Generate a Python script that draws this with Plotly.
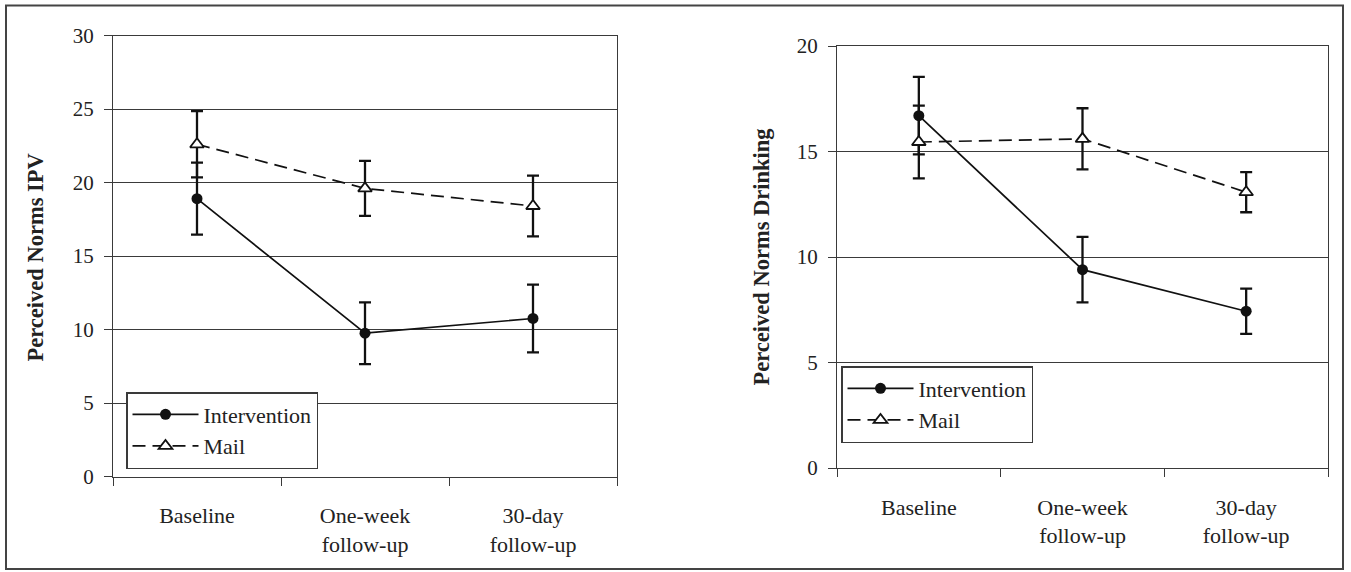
import plotly.graph_objects as go

W, H = 1351, 572

categories = ["Baseline", "One-week<br>follow-up", "30-day<br>follow-up"]

ipv_intervention = [18.9, 9.75, 10.75]
ipv_intervention_err = [2.45, 2.1, 2.3]
ipv_mail = [22.6, 19.6, 18.4]
ipv_mail_err = [2.25, 1.87, 2.07]

drink_intervention = [16.7, 9.4, 7.43]
drink_intervention_err = [1.84, 1.55, 1.07]
drink_mail = [15.45, 15.6, 13.07]
drink_mail_err = [1.72, 1.45, 0.95]

FONT = "Liberation Serif, Times New Roman, serif"
INK = "#222222"
GRID = "#3a3a3a"


def px_x(p):
    return p / W


def px_y(p):
    return 1 - p / H


fig = go.Figure()


def add_pair(xa, ya, legend, inter, inter_err, mail, mail_err, tag):
    fig.add_trace(go.Scatter(
        x=categories, y=inter, xaxis=xa, yaxis=ya, name="Intervention",
        mode="lines+markers", legend=legend, legendgroup=tag + "i",
        line=dict(color="#111111", width=1.7),
        marker=dict(symbol="circle", size=11, color="#111111"),
        error_y=dict(type="data", array=inter_err, visible=True,
                     color="#111111", thickness=2.3, width=6),
    ))
    fig.add_trace(go.Scatter(
        x=categories, y=mail, xaxis=xa, yaxis=ya, name="Mail",
        mode="lines+markers", legend=legend, legendgroup=tag + "m",
        line=dict(color="#111111", width=1.7, dash="13px,7px"),
        marker=dict(symbol="triangle-up", size=12, color="white",
                    line=dict(color="#111111", width=1.8)),
        error_y=dict(type="data", array=mail_err, visible=True,
                     color="#111111", thickness=2.3, width=6),
    ))


add_pair("x", "y", "legend", ipv_intervention, ipv_intervention_err,
         ipv_mail, ipv_mail_err, "L")
add_pair("x2", "y2", "legend2", drink_intervention, drink_intervention_err,
         drink_mail, drink_mail_err, "R")

xcommon = dict(
    type="category", categoryorder="array", categoryarray=categories,
    range=[-0.5, 2.5], tickson="boundaries", ticks="outside", ticklen=8,
    tickwidth=1.3, tickcolor=GRID, showline=True, linecolor=GRID,
    linewidth=1.3, mirror=True, showgrid=False, zeroline=False,
    tickfont=dict(family=FONT, size=22, color=INK), ticklabelstandoff=19,
    fixedrange=True, automargin=False,
)
ycommon = dict(
    dtick=5, ticks="outside", ticklen=8, tickwidth=1.3, tickcolor=GRID,
    showline=True, linecolor=GRID, linewidth=1.3, mirror=True,
    showgrid=True, gridcolor=GRID, gridwidth=1.3, zeroline=False,
    tickfont=dict(family=FONT, size=21, color=INK), ticklabelstandoff=6,
    fixedrange=True, automargin=False,
)

legcommon = dict(
    bgcolor="white", bordercolor=GRID, borderwidth=1.5,
    font=dict(family=FONT, size=22, color=INK), itemwidth=66,
    xanchor="left", yanchor="top", tracegroupgap=2, traceorder="normal",
)

fig.update_layout(
    width=W, height=H, margin=dict(l=0, r=0, t=0, b=0, autoexpand=False),
    paper_bgcolor="white", plot_bgcolor="white",
    xaxis=dict(domain=[px_x(113), px_x(617)], anchor="y", **xcommon),
    yaxis=dict(domain=[px_y(476.5), px_y(35.5)], anchor="x",
               range=[0, 30], **ycommon),
    xaxis2=dict(domain=[px_x(837), px_x(1328)], anchor="y2", **xcommon),
    yaxis2=dict(domain=[px_y(468), px_y(46)], anchor="x2",
                range=[0, 20], **ycommon),
    legend=dict(x=px_x(126), y=px_y(392), **legcommon),
    legend2=dict(x=px_x(841), y=px_y(366), **legcommon),
    showlegend=True,
)

fig.add_annotation(text="<b>Perceived Norms IPV</b>", xref="paper", yref="paper",
                   x=px_x(35), y=px_y(257.5), textangle=-90, showarrow=False,
                   font=dict(family=FONT, size=22.5, color=INK),
                   xanchor="center", yanchor="middle")
fig.add_annotation(text="<b>Perceived Norms Drinking</b>", xref="paper", yref="paper",
                   x=px_x(760.5), y=px_y(257), textangle=-90, showarrow=False,
                   font=dict(family=FONT, size=22.5, color=INK),
                   xanchor="center", yanchor="middle")

fig.add_shape(type="rect", xref="paper", yref="paper",
              x0=px_x(6), x1=px_x(1343), y0=px_y(569), y1=px_y(5.5),
              line=dict(color="#444444", width=2), fillcolor="rgba(0,0,0,0)")

fig.write_html("out.html", config={"displayModeBar": False},
               post_script="document.body.style.margin='0';document.body.style.overflow='hidden';")
